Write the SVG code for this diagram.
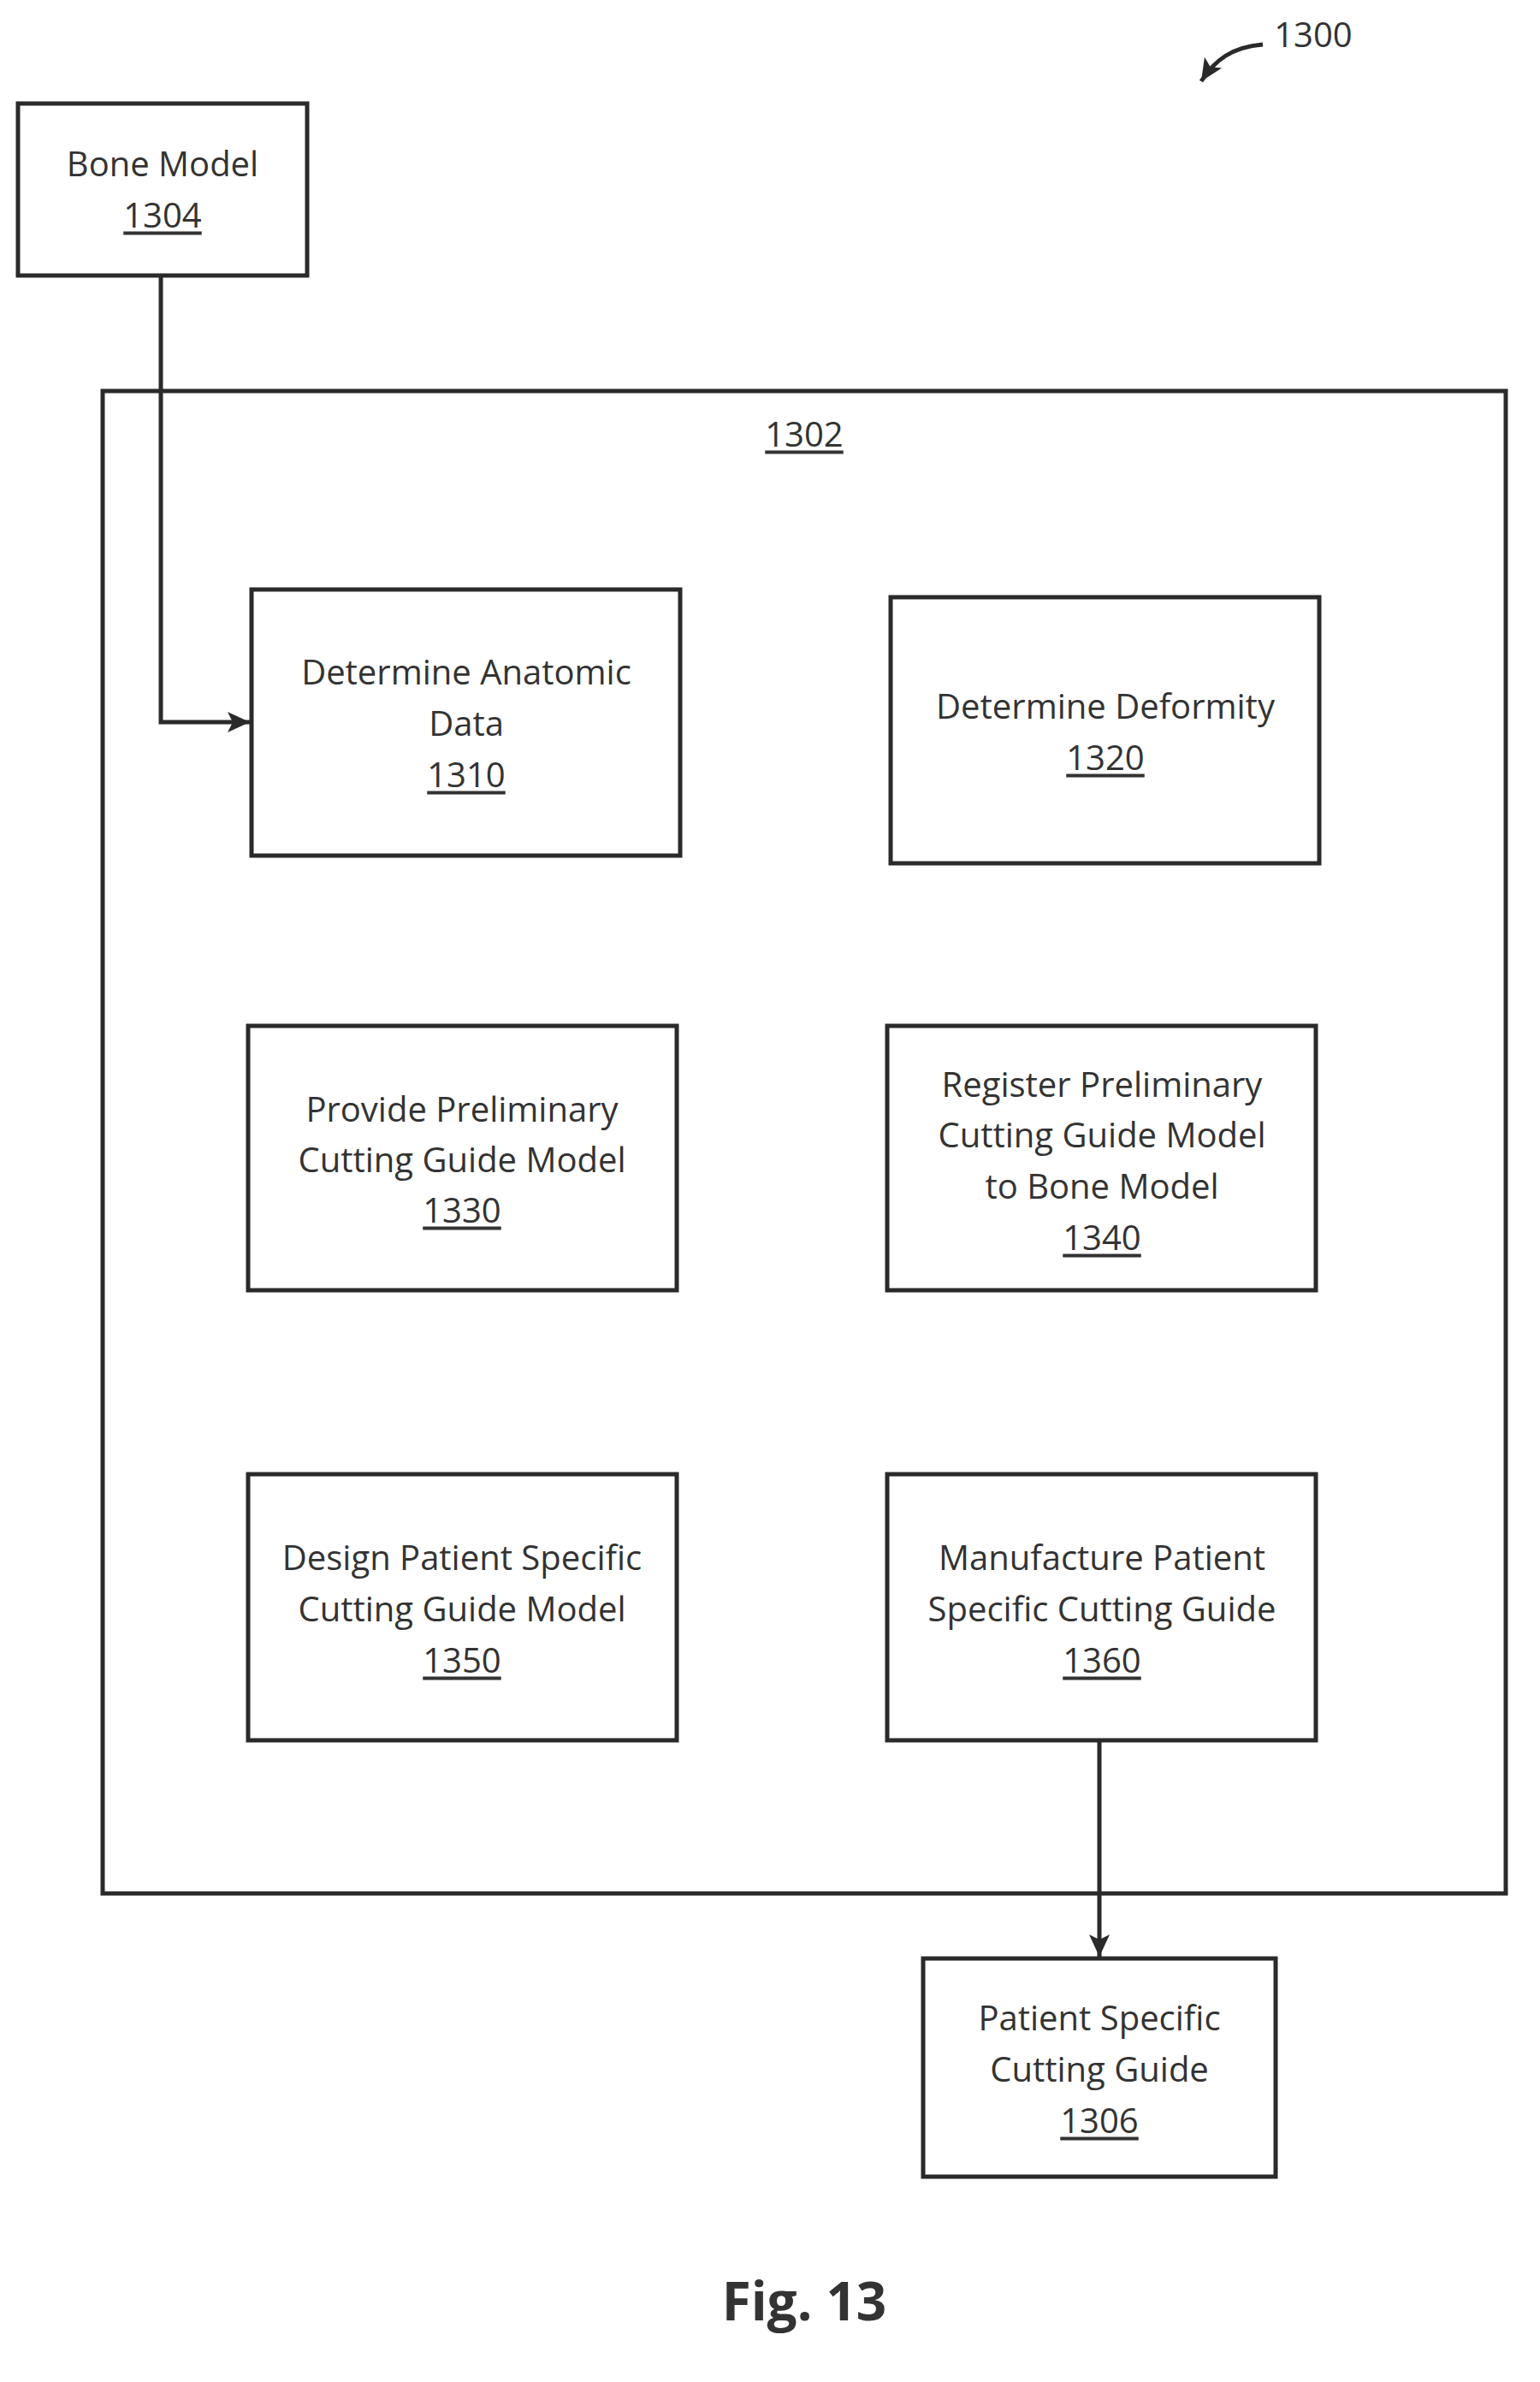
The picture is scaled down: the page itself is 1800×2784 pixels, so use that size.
<svg xmlns="http://www.w3.org/2000/svg" width="1800" height="2784" viewBox="0 0 1800 2784">
<style>
.b{fill:#fff;stroke:#2a2a2a;stroke-width:5}
.t{font-family:"Open Sans","Liberation Sans",sans-serif;font-size:40px;fill:#333;text-anchor:middle;dominant-baseline:central}
.u{text-decoration:underline}
.c{fill:none;stroke:#2a2a2a;stroke-width:5}
</style>
<defs><marker id="a" markerWidth="10" markerHeight="10" refX="9" refY="5" orient="auto" markerUnits="userSpaceOnUse" viewBox="0 0 10 10"><path d="M0,0L10,5L0,10z" fill="#2a2a2a"/></marker>
<marker id="ah" markerWidth="30" markerHeight="30" refX="28" refY="15" orient="auto" markerUnits="userSpaceOnUse"><path d="M2,3L28,15L2,27L8,15z" fill="#2a2a2a"/></marker></defs>
<g id="n1302"><rect class="b" x="120" y="457" width="1640" height="1756"/><text class="t u" x="940" y="506">1302</text></g>
<g id="n1304"><rect class="b" x="21" y="121" width="338" height="201"/><text class="t" x="190" y="190">Bone Model</text><text class="t u" x="190" y="250">1304</text></g>
<g id="n1310"><rect class="b" x="294" y="689" width="501" height="311"/><text class="t" x="545" y="784">Determine Anatomic</text><text class="t" x="545" y="844">Data</text><text class="t u" x="545" y="904">1310</text></g>
<g id="n1320"><rect class="b" x="1041" y="698" width="501" height="311"/><text class="t" x="1292" y="824">Determine Deformity</text><text class="t u" x="1292" y="884">1320</text></g>
<g id="n1330"><rect class="b" x="290" y="1199" width="501" height="309"/><text class="t" x="540" y="1295">Provide Preliminary</text><text class="t" x="540" y="1354">Cutting Guide Model</text><text class="t u" x="540" y="1413">1330</text></g>
<g id="n1340"><rect class="b" x="1037" y="1199" width="501" height="309"/><text class="t" x="1288" y="1266">Register Preliminary</text><text class="t" x="1288" y="1325">Cutting Guide Model</text><text class="t" x="1288" y="1385">to Bone Model</text><text class="t u" x="1288" y="1445">1340</text></g>
<g id="n1350"><rect class="b" x="290" y="1723" width="501" height="311"/><text class="t" x="540" y="1819">Design Patient Specific</text><text class="t" x="540" y="1879">Cutting Guide Model</text><text class="t u" x="540" y="1939">1350</text></g>
<g id="n1360"><rect class="b" x="1037" y="1723" width="501" height="311"/><text class="t" x="1288" y="1819">Manufacture Patient</text><text class="t" x="1288" y="1879">Specific Cutting Guide</text><text class="t u" x="1288" y="1939">1360</text></g>
<g id="n1306"><rect class="b" x="1079" y="2289" width="412" height="255"/><text class="t" x="1285" y="2357">Patient Specific</text><text class="t" x="1285" y="2417">Cutting Guide</text><text class="t u" x="1285" y="2477">1306</text></g>
<g id="connectors">
<path class="c" d="M188,322V844H292" marker-end="url(#ah)"/>
<path class="c" d="M1285,2034V2287" marker-end="url(#ah)"/>
<path class="c" d="M1476,52C1440,55 1420,70 1404,95" marker-end="url(#ah)"/>
</g>
<text class="t" x="1535" y="39" style="text-anchor:middle">1300</text>
<text x="940" y="2712" style="font-family:'Open Sans','Liberation Sans',sans-serif;font-size:62px;font-weight:bold;fill:#333;text-anchor:middle">Fig.  13</text>
</svg>
